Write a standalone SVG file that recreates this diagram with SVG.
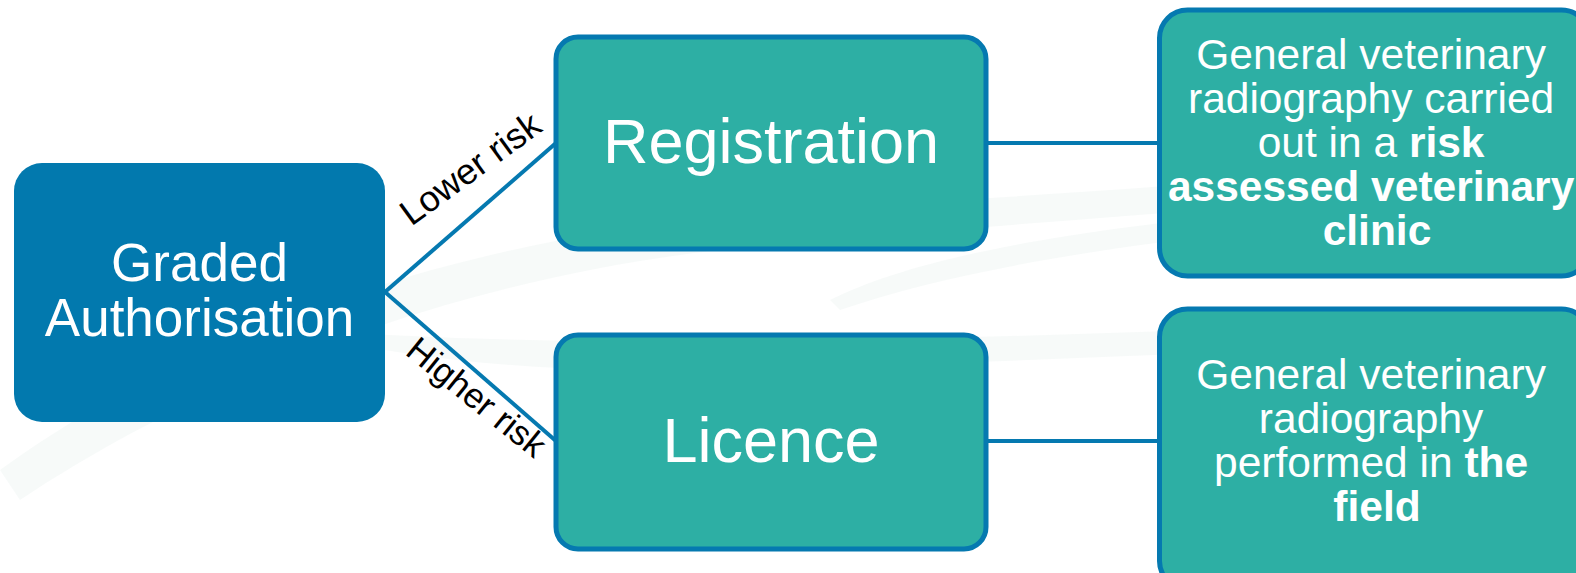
<svg xmlns="http://www.w3.org/2000/svg" width="1576" height="573" viewBox="0 0 1576 573">
<style>
  text { font-family: "Liberation Sans", Arial, sans-serif; }
  .blue { fill: #0279AE; }
  .teal { fill: #2DAFA4; stroke: #0579B0; stroke-width: 5; }
  .conn { stroke: #0579B0; stroke-width: 4; fill: none; }
  .w { fill: #FFFFFF; text-anchor: middle; }
  .lbl { fill: #000000; text-anchor: middle; }
  .b { font-weight: bold; }
  .wm { fill: #EEF4F2; opacity: 0.45; }
</style>
<rect width="1576" height="573" fill="#FFFFFF"/>
<g id="background">
  <path class="wm" d="M0 470 C 150 360, 400 250, 700 220 C 900 200, 1200 190, 1576 150 L 1576 175 C 1200 215, 900 230, 720 250 C 450 280, 200 380, 20 500 Z"/>
  <path class="wm" d="M830 300 C 950 240, 1200 210, 1576 190 L 1576 205 C 1250 225, 1000 255, 840 310 Z"/>
  <path class="wm" d="M300 330 C 600 350, 900 340, 1200 330 L 1576 322 L 1576 340 C 1200 350, 900 370, 620 370 C 500 368, 380 355, 300 330 Z"/>
</g>
<g id="connectors">
  <line class="conn" x1="385" y1="292" x2="556" y2="143"/>
  <line class="conn" x1="385" y1="292" x2="556" y2="441"/>
  <line class="conn" x1="986" y1="143" x2="1159" y2="143"/>
  <line class="conn" x1="986" y1="441" x2="1159" y2="441"/>
  <text class="lbl" font-size="36" transform="translate(477.5,178.5) rotate(-36)">Lower risk</text>
  <text class="lbl" font-size="35" transform="translate(469,406.5) rotate(39)">Higher risk</text>
</g>
<g id="graded">
  <rect class="blue" x="14" y="163" width="371" height="259" rx="28"/>
  <text class="w" x="199.5" y="281" font-size="53">Graded</text>
  <text class="w" x="199.5" y="336" font-size="53">Authorisation</text>
</g>
<g id="registration">
  <rect class="teal" x="556" y="37" width="430" height="212" rx="22"/>
  <text class="w" x="771" y="163" font-size="63">Registration</text>
</g>
<g id="licence">
  <rect class="teal" x="556" y="335" width="430" height="214" rx="22"/>
  <text class="w" x="771" y="462" font-size="63">Licence</text>
</g>
<g id="clinic">
  <rect class="teal" x="1159.5" y="10" width="430" height="266" rx="28"/>
  <text class="w" x="1377" font-size="42.5">
    <tspan x="1377" y="69">General veterinary</tspan>
    <tspan x="1377" y="113">radiography carried</tspan>
    <tspan x="1377" y="157">out in a <tspan class="b">risk</tspan></tspan>
    <tspan x="1377" y="201" class="b">assessed veterinary</tspan>
    <tspan x="1377" y="245" class="b">clinic</tspan>
  </text>
</g>
<g id="field">
  <rect class="teal" x="1159.5" y="309" width="430" height="280" rx="28"/>
  <text class="w" x="1377" font-size="42.5">
    <tspan x="1377" y="389">General veterinary</tspan>
    <tspan x="1377" y="433">radiography</tspan>
    <tspan x="1377" y="477">performed in <tspan class="b">the</tspan></tspan>
    <tspan x="1377" y="521" class="b">field</tspan>
  </text>
</g>
</svg>
